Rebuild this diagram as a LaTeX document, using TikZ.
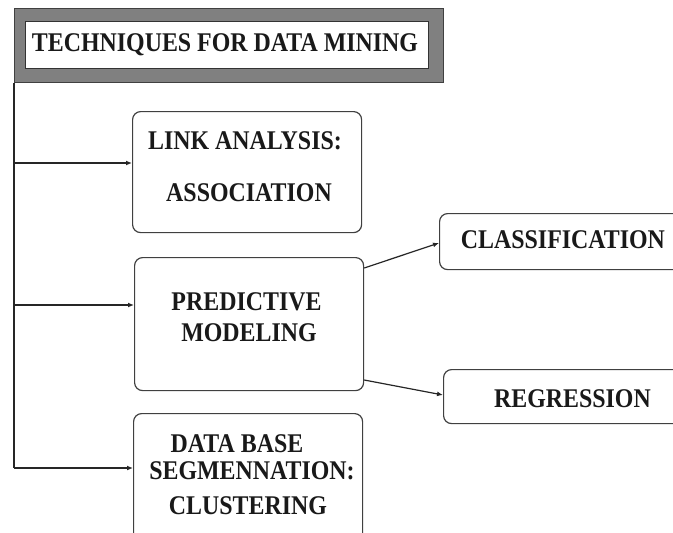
\documentclass[tikz,border=0pt]{standalone}
\usepackage{fontspec}
\setmainfont{Liberation Serif}
\usepackage{graphicx}
\usetikzlibrary{arrows.meta,calc}
\newcommand\sxx[1]{\scalebox{0.885}[1]{#1}}
\definecolor{boxc}{HTML}{404040}
\definecolor{framegray}{HTML}{808080}
\begin{document}
\begin{tikzpicture}[x=1pt,y=-1pt,
  box/.style={draw=boxc, line width=1.2pt, rounded corners=8pt, fill=white, anchor=north west, inner sep=0pt},
  txt/.style={font=\fontsize{27}{31}\selectfont\bfseries, text=black!90, inner sep=0pt},
  arr/.style={draw=black!85, line width=1.2pt, -{Latex[length=6pt,width=5pt]}},
  trunk/.style={draw=black!85, line width=1.2pt}]
\useasboundingbox (0,0) rectangle (673,533);
% title frame
\node[draw=boxc, line width=1pt, fill=framegray, anchor=north west, minimum width=429pt, minimum height=74pt, inner sep=0pt] (frame) at (14,8) {};
\node[draw=black!80, line width=1pt, fill=white, anchor=north west, minimum width=403pt, minimum height=47pt, inner sep=0pt] (titlebox) at (25,21) {};
\node[txt] (title) at (225,45) {\sxx{TECHNIQUES FOR DATA MINING}};
% boxes
\node[box, minimum width=229pt, minimum height=121pt] (link) at (132,111) {};
\node[box, minimum width=229pt, minimum height=133pt] (pred) at (134,257) {};
\node[box, minimum width=260pt, minimum height=56pt] (class) at (439,213) {};
\node[box, minimum width=260pt, minimum height=54pt] (regr) at (443,369) {};
\node[box, minimum width=229pt, minimum height=140pt] (db) at (133,413) {};
% texts
\node[txt] (linkA) at (245,141) {\sxx{LINK ANALYSIS:}};
\node[txt] (linkB) at (249,192.5) {\sxx{ASSOCIATION}};
\node[txt] (predA) at (246.5,302) {\sxx{PREDICTIVE}};
\node[txt] (predB) at (249,333) {\sxx{MODELING}};
\node[txt] (classT) at (563,240) {\sxx{CLASSIFICATION}};
\node[txt] (regrT) at (572.5,399) {\sxx{REGRESSION}};
\node[txt] (dbA) at (237,443.5) {\sxx{DATA BASE}};
\node[txt] (dbB) at (252,471) {\sxx{SEGMENNATION:}};
\node[txt] (dbC) at (248,506) {\sxx{CLUSTERING}};
% connectors
\coordinate (j1) at (frame.south west |- 0,163);
\coordinate (j2) at (frame.south west |- 0,305);
\coordinate (j3) at (frame.south west |- 0,468);
\draw[trunk] (frame.south west) -- (j3);
\draw[arr] (j1) -- (link.west |- j1);
\draw[arr] (j2) -- (pred.west |- j2);
\draw[arr] (j3) -- (db.west |- j3);
\coordinate (p1) at (pred.east |- 0,268);
\coordinate (p2) at (pred.east |- 0,380);
\draw[arr] (p1) -- (class.west |- 0,243);
\draw[arr] (p2) -- (regr.west |- 0,395);
\end{tikzpicture}
\end{document}
